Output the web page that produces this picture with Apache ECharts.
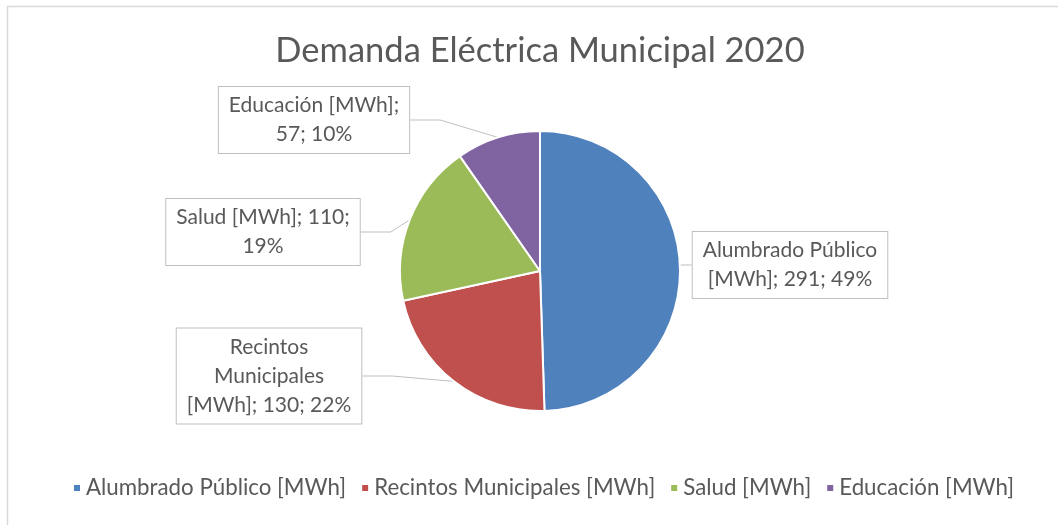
<!DOCTYPE html>
<html>
<head>
<meta charset="utf-8">
<script src="https://cdn.jsdelivr.net/npm/echarts@6/dist/echarts.min.js"></script>
<style>
  html, body { margin: 0; padding: 0; background: #fff; }
  #chart { width: 1058px; height: 525px; }
</style>
</head>
<body>
<div id="chart"></div>
<script>
const categories = ['Alumbrado Público [MWh]', 'Recintos Municipales [MWh]', 'Salud [MWh]', 'Educación [MWh]'];
const values = [291, 130, 110, 57];
const colors = ['#4f81bd', '#c0504d', '#9bbb59', '#8064a2'];

// callout placement (centre of each box) and the word positions where each label wraps
const labelCentres = [[790, 265], [269, 376], [263, 232], [314, 120]];
const labelBreaks = [[2], [1, 2], [3], [2]];

const FONT = 'Lato, "Noto Sans", sans-serif';
const GREY = '#595959';

const chart = echarts.init(document.getElementById('chart'));

chart.setOption({
  animation: false,
  color: colors,
  graphic: [
    {
      type: 'rect',
      shape: { x: 7.5, y: 6.5, width: 1200, height: 700 },
      style: { fill: 'none', stroke: '#d9d9d9', lineWidth: 1.5 },
      silent: true,
    },
  ],
  title: {
    text: 'Demanda Eléctrica Municipal 2020',
    left: 535,
    top: 28,
    textAlign: 'center',
    textStyle: {
      fontFamily: FONT,
      fontSize: 34.5,
      fontWeight: 'normal',
      color: GREY,
    },
  },
  legend: {
    bottom: 21,
    left: 67,
    icon: 'rect',
    itemWidth: 8,
    itemHeight: 8,
    itemGap: 14,
    textStyle: { fontFamily: FONT, fontSize: 22.3, color: GREY },
    data: categories,
  },
  series: [
    {
      type: 'pie',
      center: [540, 271],
      radius: 140,
      startAngle: 90,
      clockwise: true,
      percentPrecision: 0,
      itemStyle: { borderColor: '#fff', borderWidth: 2 },
      label: {
        show: true,
        position: 'outside',
        fontFamily: FONT,
        fontSize: 21,
        lineHeight: 29,
        color: GREY,
        align: 'center',
        backgroundColor: '#fff',
        borderColor: '#bfbfbf',
        borderWidth: 1,
        padding: [4, 10],
        formatter: (p) => {
          const words = `${p.name}; ${p.value}; ${p.percent}%`.split(' ');
          const breaks = labelBreaks[p.dataIndex];
          return words
            .map((w, i) => (i === 0 ? w : (breaks.includes(i) ? '\n' : ' ') + w))
            .join('');
        },
      },
      labelLine: {
        show: true,
        lineStyle: { color: '#bfbfbf', width: 1 },
      },
      labelLayout: (params) => {
        const c = labelCentres[params.dataIndex];
        return {
          x: c[0],
          y: c[1],
          align: 'center',
          verticalAlign: 'middle',
        };
      },
      data: categories.map((name, i) => ({ name, value: values[i] })),
    },
  ],
});
</script>
</body>
</html>
